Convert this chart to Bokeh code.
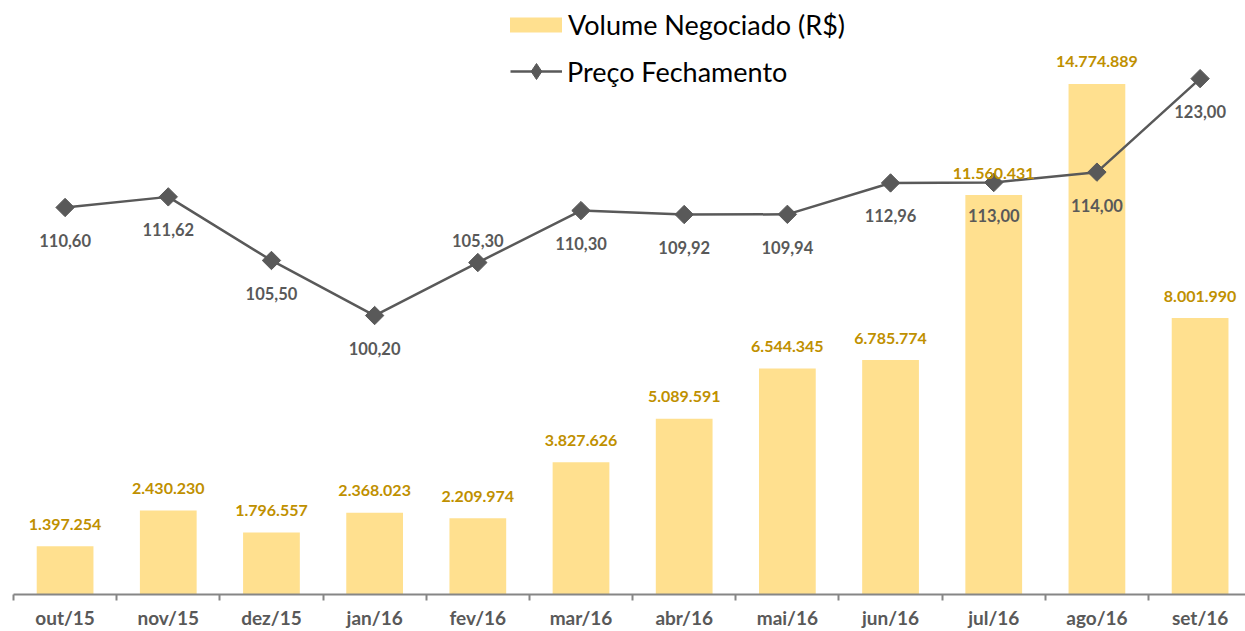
import math
from bokeh.plotting import figure
from bokeh.models import (Range1d, FixedTicker, ColumnDataSource,
                          Legend, LegendItem)
from bokeh.core.properties import value
from bokeh.embed import file_html
from bokeh.resources import INLINE

months = ["out/15", "nov/15", "dez/15", "jan/16", "fev/16", "mar/16",
          "abr/16", "mai/16", "jun/16", "jul/16", "ago/16", "set/16"]
volume = [1397254, 2430230, 1796557, 2368023, 2209974, 3827626,
          5089591, 6544345, 6785774, 11560431, 14774889, 8001990]
price = [110.60, 111.62, 105.50, 100.20, 105.30, 110.30,
         109.92, 109.94, 112.96, 113.00, 114.00, 123.00]
price_label_pos = ["below", "below", "below", "below", "above", "below",
                   "below", "below", "below", "below", "below", "below"]


def br_int(v):
    return f"{v:,}".replace(",", ".")


def br_dec(v):
    return f"{v:.2f}".replace(".", ",")


xs = list(range(len(months)))
BAR = "#FFE08F"
GOLD = "#BF9000"
GREY = "#595959"
AXIS = "#868686"
FONT = "Lato"

src = ColumnDataSource(dict(
    x=xs, vol=volume, price=price,
    vlab=[br_int(v) for v in volume],
    plab=[br_dec(v) for v in price],
    poff=[33 if pos == "below" else -22 for pos in price_label_pos],
))

p = figure(width=1245, height=631, output_backend="svg", toolbar_location=None,
           x_range=Range1d(-0.5, 11.44), y_range=Range1d(0, 16.96e6),
           min_border_left=13, min_border_right=0, min_border_top=8,
           min_border_bottom=0)
p.outline_line_color = None
p.grid.visible = False
p.background_fill_color = "white"
p.border_fill_color = "white"

p.extra_y_ranges = {"price": Range1d(73.35, 129.75)}

bars = p.vbar(x="x", top="vol", width=0.55, source=src, fill_color=BAR,
              line_color=None)
line = p.line(x="x", y="price", source=src, y_range_name="price",
              line_color=GREY, line_width=2.5)
p.scatter(x="x", y="price", source=src, y_range_name="price",
          marker="square", size=13, angle=math.pi / 4,
          fill_color=GREY, line_color=GREY)
# legend proxy (no visible data marks)
proxy = p.scatter(x=[float("nan")], y=[float("nan")], y_range_name="price",
                  marker="diamond", fill_color=GREY, line_color=GREY)

p.text(x="x", y="vol", text="vlab", source=src, text_align="center",
       text_baseline="middle", y_offset=-22, text_color=GOLD,
       text_font=value(FONT), text_font_style="bold", text_font_size="16px")
p.text(x="x", y="price", text="plab", source=src, y_range_name="price",
       text_align="center", text_baseline="middle", y_offset="poff",
       text_color=GREY, text_font=value(FONT), text_font_style="bold",
       text_font_size="16.5px")

# axes
p.yaxis.visible = False
xa = p.xaxis[0]
xa.ticker = FixedTicker(ticks=xs, minor_ticks=[i - 0.5 for i in range(len(months))])
xa.major_label_overrides = {i: m for i, m in enumerate(months)}
xa.major_tick_out = 0
xa.major_tick_in = 0
xa.minor_tick_out = 6
xa.minor_tick_in = 0
xa.minor_tick_line_color = AXIS
xa.minor_tick_line_width = 2
xa.axis_line_color = AXIS
xa.axis_line_width = 2
xa.major_label_standoff = 5
xa.major_label_text_font = FONT
xa.major_label_text_font_style = "bold"
xa.major_label_text_font_size = "19px"
xa.major_label_text_color = GREY

# legends
common = dict(padding=0, margin=0, border_line_color=None,
              background_fill_alpha=0, label_text_font=FONT,
              label_text_font_size="27px", label_text_color="black")
leg1 = Legend(items=[LegendItem(label="Volume Negociado (R$)", renderers=[bars])],
              location=(490, 553), glyph_width=65, glyph_height=19,
              label_height=19, label_standoff=0, **common)
leg2 = Legend(items=[LegendItem(label="Preço Fechamento", renderers=[line, proxy])],
              location=(497, 503), glyph_width=52, glyph_height=40,
              label_height=30, label_standoff=5, **common)
p.add_layout(leg1, "center")
p.add_layout(leg2, "center")

open("out.html", "w").write(file_html(p, INLINE))
